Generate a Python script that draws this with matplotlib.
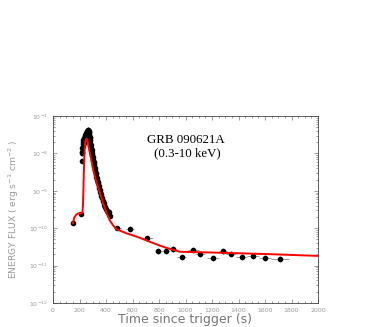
import matplotlib
matplotlib.use("Agg")
import matplotlib.pyplot as plt
import numpy as np
from matplotlib.ticker import MultipleLocator, FixedLocator, NullFormatter

# light curve points: time (s), log10 flux, half width in time
t_pts = [153, 211,
         216, 218, 220, 222, 224, 226, 228, 230, 232, 234, 236, 238, 240,
         242, 244, 246, 248, 250, 252, 254, 256, 258, 260, 262, 264, 266,
         268, 270, 272, 274, 276, 278, 280, 283, 286, 289, 292, 295, 298,
         301, 304, 307, 310, 313, 316, 319, 322, 325, 328, 331, 334, 337,
         340, 344, 348, 352, 356, 360, 365, 370, 376, 382, 388, 395, 403,
         411, 420, 430,
         485, 581, 712, 795, 853, 908, 971, 1059, 1109, 1210, 1281, 1343,
         1424, 1512, 1600, 1713]
logf_pts = [-9.85, -9.62,
            -8.2, -8.0, -7.85, -7.95, -7.75, -7.8, -7.7, -7.65, -7.72, -7.6,
            -7.62, -7.55, -7.58, -7.5, -7.55, -7.48, -7.5, -7.45, -7.5, -7.45,
            -7.42, -7.47, -7.4, -7.38, -7.42, -7.37, -7.4, -7.45, -7.42, -7.5,
            -7.55, -7.6, -7.65, -7.72, -7.78, -7.85, -7.92, -7.98, -8.05,
            -8.1, -8.17, -8.22, -8.28, -8.33, -8.4, -8.45, -8.52, -8.56,
            -8.62, -8.67, -8.72, -8.76, -8.8, -8.86, -8.92, -8.98, -9.04,
            -9.08, -9.14, -9.2, -9.27, -9.32, -9.37, -9.42, -9.48, -9.53,
            -9.58, -9.67,
            -10.0, -10.02, -10.27, -10.61, -10.60, -10.56, -10.76, -10.58,
            -10.69, -10.80, -10.62, -10.70, -10.77, -10.75, -10.79, -10.83]
terr_pts = [15, 10] + [3] * 68 + [25, 30, 45, 25, 30, 30, 35, 40, 40, 45,
                                  30, 40, 40, 45, 45, 70]
lerr_pts = [0.07, 0.06] + [0.08] * 68 + [0.06, 0.07, 0.07, 0.08, 0.08, 0.08,
                                         0.08, 0.08, 0.08, 0.08, 0.08, 0.08,
                                         0.08, 0.08, 0.08, 0.08]

# model curve
t_mod = [150, 160, 175, 195, 215, 222, 226, 230, 234, 238, 242, 246, 250,
         254, 258, 262, 270, 285, 304, 330, 355, 380, 405, 430, 455, 480,
         550, 650, 750, 850, 958, 1200, 1600, 2000]
logf_mod = [-9.87, -9.72, -9.64, -9.6, -9.6, -9.58, -9.4, -8.9, -8.35,
            -7.95, -7.75, -7.66, -7.62, -7.61, -7.64, -7.7, -7.85, -8.1,
            -8.44, -8.8, -9.07, -9.35, -9.6, -9.8, -9.93, -10.03, -10.13,
            -10.25, -10.39, -10.52, -10.63, -10.65, -10.69, -10.74]

x_ticks = [0, 200, 400, 600, 800, 1000, 1200, 1400, 1600, 1800, 2000]
y_exps = [-12, -11, -10, -9, -8, -7]

t = np.array(t_pts, dtype=float)
f = 10.0 ** np.array(logf_pts)
lo = f - 10.0 ** (np.array(logf_pts) - np.array(lerr_pts))
hi = 10.0 ** (np.array(logf_pts) + np.array(lerr_pts)) - f

grey = "#9a9a9a"
fig = plt.figure(figsize=(3.82, 3.27), dpi=100)
ax = fig.add_axes([53 / 382, 1 - 303 / 327, 265 / 382, 187 / 327])

ax.errorbar(t, f, xerr=terr_pts, yerr=[lo, hi], fmt="o", ms=3,
            color="black", ecolor="#7a7a7a", elinewidth=0.5, capsize=0,
            zorder=2)
ax.plot(t_mod, 10.0 ** np.array(logf_mod), color="red", lw=1.4, zorder=3)

ax.set_yscale("log")
ax.set_xlim(0, 2000)
ax.set_ylim(1e-12, 1e-7)
ax.set_xticks(x_ticks)
ax.set_xticklabels([str(v) for v in x_ticks])
ax.xaxis.set_minor_locator(MultipleLocator(50))
ax.set_yticks([10.0 ** e for e in y_exps])
ax.set_yticklabels([f"$10^{{{e}}}$" for e in y_exps])
minor_y = [m * 10.0 ** e for e in y_exps[:-1] for m in range(2, 10)]
ax.yaxis.set_minor_locator(FixedLocator(minor_y))
ax.yaxis.set_minor_formatter(NullFormatter())
ax.tick_params(which="both", direction="in", top=True, right=True,
               labelsize=4.5, labelcolor=grey, color="#555555", width=0.4)
ax.tick_params(which="major", length=3)
ax.tick_params(which="minor", length=1.5)
for sp in ax.spines.values():
    sp.set_linewidth(0.6)
    sp.set_color("#444444")

ax.set_xlabel("Time since trigger (s)", fontsize=9, color="#777777",
              labelpad=0)
ax.set_ylabel(r"ENERGY FLUX ( erg s$^{-1}$ cm$^{-2}$ )", fontsize=6.6,
              color=grey, labelpad=6)

ax.text(0.50, 0.872, "GRB 090621A", transform=ax.transAxes, ha="center",
        va="center", fontsize=9.3, family="Liberation Serif")
ax.text(0.506, 0.802, "(0.3-10 keV)", transform=ax.transAxes, ha="center",
        va="center", fontsize=9.3, family="Liberation Serif")

fig.savefig("out.png", dpi=100)
